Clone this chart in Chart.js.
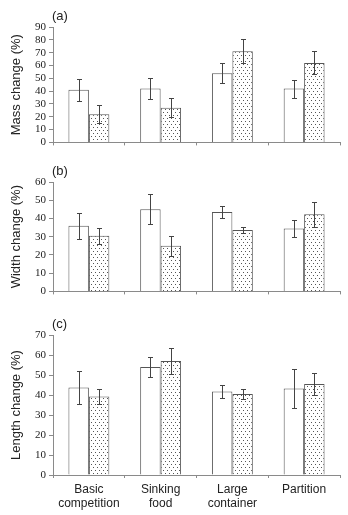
<!DOCTYPE html>
<html>
<head>
<meta charset="utf-8">
<script src="https://cdn.jsdelivr.net/npm/chart.js@4.4.0/dist/chart.umd.min.js"></script>
<style>
  html, body { margin: 0; padding: 0; background: #fff; }
  #wrap { position: relative; width: 348px; height: 515px; overflow: hidden; }
  .panel { position: absolute; left: 0; width: 348px; }
</style>
</head>
<body>
<div id="wrap">
  <div class="panel" style="top:0px;height:152px"><canvas id="massChart"></canvas></div>
  <div class="panel" style="top:160px;height:141px"><canvas id="widthChart"></canvas></div>
  <div class="panel" style="top:310px;height:205px"><canvas id="lengthChart"></canvas></div>
</div>
<script>
// Treatments
const categories = [['Basic', 'competition'], ['Sinking', 'food'], ['Large', 'container'], 'Partition'];

// (a) Mass change
const massOpen = [41, 42, 54, 42];
const massOpenErr = [8.4, 8.4, 7.7, 7];
const massDotted = [22, 27, 71, 62];
const massDottedErr = [7, 7.5, 9.3, 9];

// (b) Width change
const widthOpen = [36, 45, 43.5, 34.5];
const widthOpenErr = [7.2, 8.3, 3.3, 4.9];
const widthDotted = [30.5, 25, 33.7, 42.3];
const widthDottedErr = [4.5, 5.6, 1.8, 6.8];

// (c) Length change
const lengthOpen = [43.8, 54, 41.8, 43.3];
const lengthOpenErr = [8.3, 4.8, 3.3, 9.8];
const lengthDotted = [39.3, 57, 40.5, 45.5];
const lengthDottedErr = [3.8, 6.5, 2.5, 5.4];

const axisColor = '#8a8a8a';
const barEdge = '#555';

// stippled fill for the second bar of each pair
function makeDots() {
  const c = document.createElement('canvas');
  c.width = 4; c.height = 6;
  const g = c.getContext('2d');
  g.fillStyle = '#fff';
  g.fillRect(0, 0, 4, 6);
  g.fillStyle = '#555';
  g.fillRect(1, 1, 1, 1);
  g.fillRect(3, 4, 1, 1);
  return g.createPattern(c, 'repeat');
}
const dots = makeDots();

// error whiskers drawn on top of each bar
const errorBars = {
  id: 'errorBars',
  afterDatasetsDraw(chart) {
    const ctx = chart.ctx;
    const y = chart.scales.y;
    ctx.save();
    ctx.strokeStyle = '#444';
    ctx.lineWidth = 1;
    chart.data.datasets.forEach((ds, i) => {
      const meta = chart.getDatasetMeta(i);
      meta.data.forEach((bar, j) => {
        const v = ds.data[j], e = ds.errors[j];
        const x = Math.round(bar.x) + 0.5;
        const t = Math.round(y.getPixelForValue(v + e)) + 0.5;
        const b = Math.round(y.getPixelForValue(v - e)) + 0.5;
        ctx.beginPath();
        ctx.moveTo(x, t); ctx.lineTo(x, b);
        ctx.moveTo(x - 2.5, t); ctx.lineTo(x + 2.5, t);
        ctx.moveTo(x - 2.5, b); ctx.lineTo(x + 2.5, b);
        ctx.stroke();
      });
    });
    ctx.restore();
  }
};

// "(a)", "(b)", "(c)" above each plot
const panelTag = {
  id: 'panelTag',
  afterDraw(chart, args, opts) {
    const ctx = chart.ctx;
    ctx.save();
    ctx.fillStyle = '#222';
    ctx.font = '13px "Liberation Sans", Arial, sans-serif';
    ctx.textBaseline = 'middle';
    ctx.fillText(opts.text, chart.chartArea.left - 1, chart.chartArea.top - 11);
    ctx.restore();
  }
};

function makePanel(id, tag, yTitle, yMax, open, openErr, dotted, dottedErr, pad, showLabels) {
  new Chart(document.getElementById(id), {
    type: 'bar',
    data: {
      labels: categories,
      datasets: [
        { data: open, errors: openErr, backgroundColor: '#fff', borderColor: barEdge, borderWidth: 1 },
        { data: dotted, errors: dottedErr, backgroundColor: dots, borderColor: barEdge, borderWidth: 1 }
      ]
    },
    options: {
      animation: false,
      responsive: true,
      maintainAspectRatio: false,
      categoryPercentage: 0.57,
      barPercentage: 1.0,
      layout: { padding: { top: pad.top, right: 8, left: 0, bottom: 0 } },
      plugins: {
        legend: { display: false },
        tooltip: { enabled: false },
        panelTag: { text: tag }
      },
      scales: {
        x: {
          grid: { drawOnChartArea: false, drawTicks: true, tickLength: 3, color: axisColor },
          border: { color: axisColor },
          ticks: {
            display: showLabels,
            color: '#222',
            maxRotation: 0,
            padding: 4,
            font: { family: '"Liberation Sans", Arial, sans-serif', size: 12 }
          },
          afterFit(s) { s.height = pad.xh; }
        },
        y: {
          min: 0, max: yMax,
          grid: { drawOnChartArea: false, drawTicks: true, tickLength: 4, color: axisColor },
          border: { color: axisColor },
          ticks: {
            stepSize: 10,
            autoSkip: false,
            color: '#222',
            padding: 3,
            font: { family: '"Liberation Serif", "Times New Roman", serif', size: 11 }
          },
          title: {
            display: true,
            text: yTitle,
            color: '#222',
            padding: { top: 9, bottom: 0 },
            font: { family: '"Liberation Sans", Arial, sans-serif', size: 13 }
          },
          afterFit(s) { s.width = 53; }
        }
      }
    },
    plugins: [errorBars, panelTag]
  });
}

makePanel('massChart', '(a)', 'Mass change (%)', 90, massOpen, massOpenErr, massDotted, massDottedErr, { top: 27, xh: 8 }, false);
makePanel('widthChart', '(b)', 'Width change (%)', 60, widthOpen, widthOpenErr, widthDotted, widthDottedErr, { top: 22, xh: 8 }, false);
makePanel('lengthChart', '(c)', 'Length change (%)', 70, lengthOpen, lengthOpenErr, lengthDotted, lengthDottedErr, { top: 25, xh: 40 }, true);
</script>
</body>
</html>
